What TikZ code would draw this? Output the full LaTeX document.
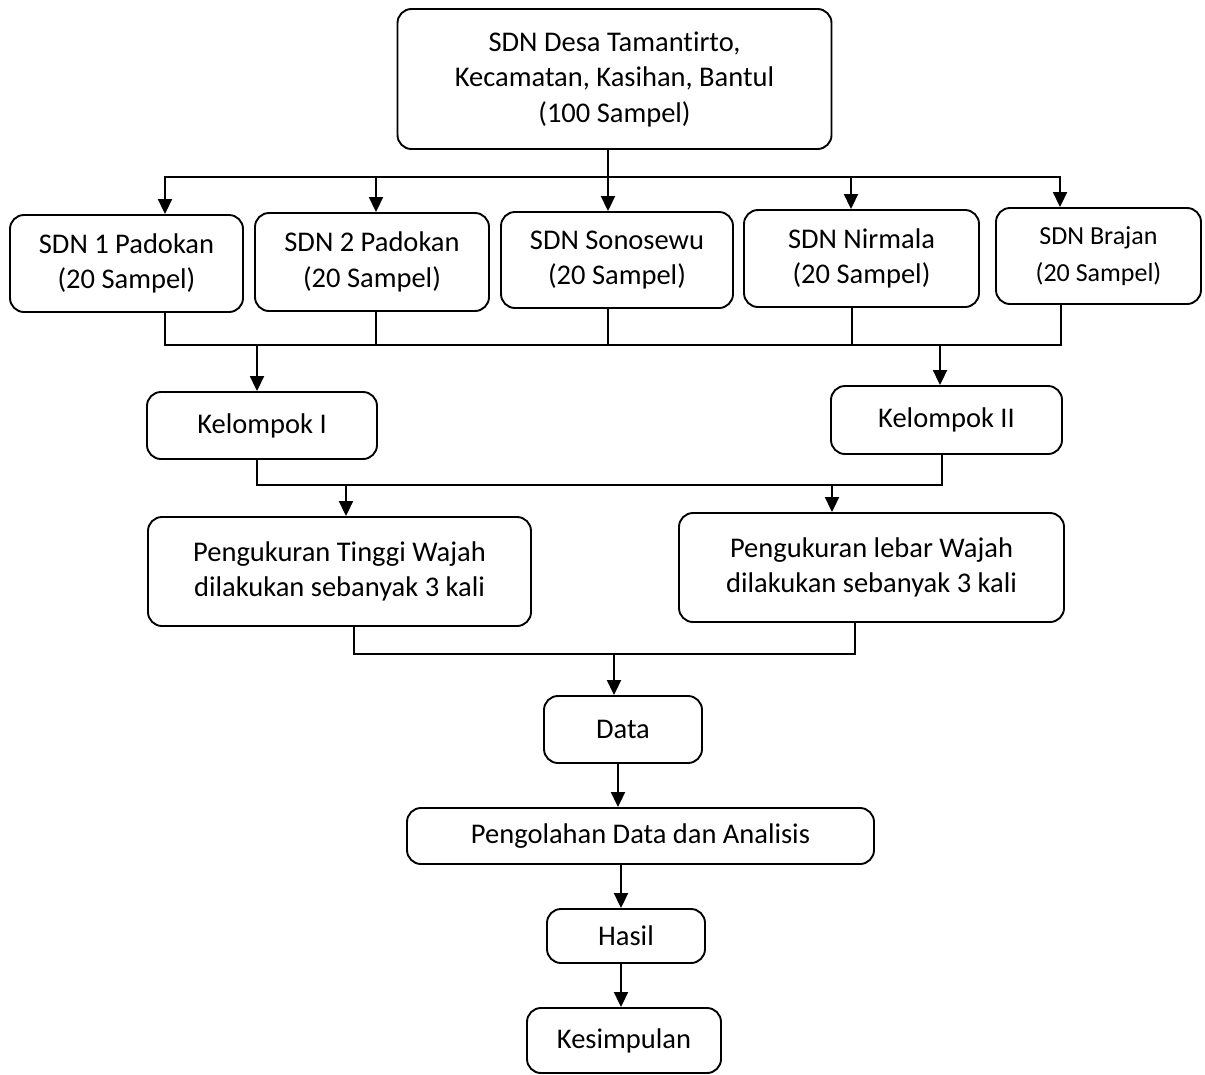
\documentclass[tikz,border=0pt]{standalone}
\usepackage{fontspec}
\setmainfont{Carlito}[Ligatures={NoCommon}]
\usetikzlibrary{arrows.meta}
\begin{document}
\begin{tikzpicture}[x=1pt,y=-1pt,
  box/.style={draw, line width=1.9pt, rounded corners=14pt, inner sep=0pt, align=center,
    font=\fontsize{28.5}{35.5}\selectfont},
  conn/.style={line width=1.9pt, line cap=rect},
  arr/.style={line width=1.9pt, -{Triangle[length=15pt,width=14pt]}}]
\useasboundingbox (0,0) rectangle (1205,1074);

% nodes
\node[box, minimum width=434pt, minimum height=140pt] (top) at (614.5,79) {SDN Desa Tamantirto,\\Kecamatan, Kasihan, Bantul\\(100 Sampel)};
\node[box, minimum width=233pt, minimum height=97pt] (s1) at (126.5,263.5) {SDN 1 Padokan\\(20 Sampel)};
\node[box, minimum width=234pt, minimum height=98pt] (s2) at (372,262) {SDN 2 Padokan\\(20 Sampel)};
\node[box, minimum width=232pt, minimum height=96pt] (s3) at (617,260) {SDN Sonosewu\\(20 Sampel)};
\node[box, minimum width=235pt, minimum height=97pt] (s4) at (861.5,258.5) {SDN Nirmala\\(20 Sampel)};
\node[box, minimum width=205pt, minimum height=96pt, font=\fontsize{26}{37}\selectfont] (s5) at (1098.5,256) {SDN Brajan\\(20 Sampel)};
\node[box, minimum width=230pt, minimum height=67pt] (k1) at (262,425.5) {Kelompok I};
\node[box, minimum width=231pt, minimum height=68pt] (k2) at (946.5,420) {Kelompok II};
\node[box, minimum width=383pt, minimum height=109pt] (m1) at (339.5,571.5) {Pengukuran Tinggi Wajah\\dilakukan sebanyak 3 kali};
\node[box, minimum width=385pt, minimum height=109pt] (m2) at (871.5,567.5) {Pengukuran lebar Wajah\\dilakukan sebanyak 3 kali};
\node[box, minimum width=158pt, minimum height=67pt] (data) at (623,729.5) {Data};
\node[box, minimum width=467pt, minimum height=56pt] (proc) at (640.5,836) {Pengolahan Data dan Analisis};
\node[box, minimum width=158pt, minimum height=54pt] (hasil) at (626,936) {Hasil};
\node[box, minimum width=194pt, minimum height=65pt] (kes) at (624,1040.5) {Kesimpulan};

% top distribution bus
\coordinate (t0) at (608,177);
\coordinate (t1) at (165,177);
\coordinate (t2) at (376,177);
\coordinate (t4) at (851,177);
\coordinate (t5) at (1060,177);
\draw[conn] (top.south -| t0) -- (t0);
\draw[conn] (t1) -- (t5);
\foreach \c/\s in {t1/s1,t2/s2,t0/s3,t4/s4,t5/s5}
  \draw[arr] (\c) -- (\c |- \s.north);

% collecting bus
\coordinate (u1) at (165,345);
\coordinate (u2) at (376,345);
\coordinate (u3) at (608,345);
\coordinate (u4) at (852,345);
\coordinate (u5) at (1061,345);
\foreach \c/\s in {u1/s1,u2/s2,u3/s3,u4/s4,u5/s5}
  \draw[conn] (\c |- \s.south) -- (\c);
\draw[conn] (u1) -- (u5);
\coordinate (ka) at (257,345);
\coordinate (kb) at (940,345);
\draw[arr] (ka) -- (ka |- k1.north);
\draw[arr] (kb) -- (kb |- k2.north);

% group bus
\coordinate (v1) at (257,485);
\coordinate (v2) at (942,485);
\draw[conn] (v1 |- k1.south) -- (v1) -- (v2) -- (v2 |- k2.south);
\coordinate (va) at (346,485);
\coordinate (vb) at (832,485);
\draw[arr] (va) -- (va |- m1.north);
\draw[arr] (vb) -- (vb |- m2.north);

% measurement bus
\coordinate (w1) at (354,654);
\coordinate (w2) at (855,654);
\coordinate (w0) at (614,654);
\draw[conn] (w1 |- m1.south) -- (w1) -- (w2) -- (w2 |- m2.south);
\draw[arr] (w0) -- (w0 |- data.north);

% vertical chain
\coordinate (p1) at (618,780);
\coordinate (p2) at (621,880);
\coordinate (p3) at (621,980);
\draw[arr] (p1 |- data.south) -- (p1 |- proc.north);
\draw[arr] (p2 |- proc.south) -- (p2 |- hasil.north);
\draw[arr] (p3 |- hasil.south) -- (p3 |- kes.north);
\end{tikzpicture}
\end{document}
